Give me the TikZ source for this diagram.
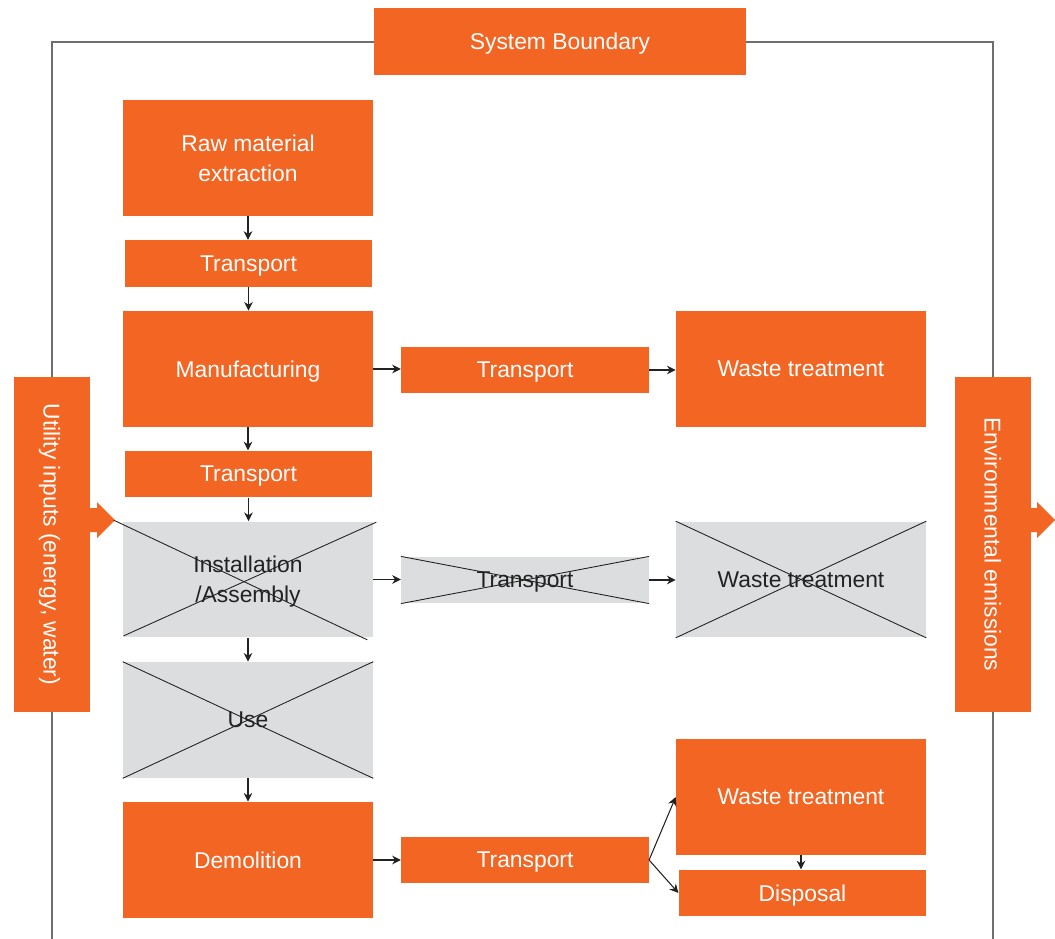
\documentclass[tikz,border=0pt]{standalone}
\usepackage{fontspec}
\setmainfont{Liberation Sans}
\usetikzlibrary{arrows.meta}
\definecolor{rorange}{HTML}{F36523}
\definecolor{rgrey}{HTML}{DCDDDF}
\definecolor{rline}{HTML}{6E6E6E}
\definecolor{rdark}{HTML}{222222}
\tikzset{
  box/.style={fill=rorange,text=white,align=center,inner sep=0pt,text depth=0pt,font=\fontsize{13}{17}\selectfont},
  big/.style={box,minimum width=5cm,minimum height=2.32cm},
  small/.style={box,minimum width=4.95cm,minimum height=0.93cm},
  side/.style={box,rotate=-90,minimum width=6.7cm,minimum height=1.52cm},
  off/.style={fill=rgrey,text=rdark},
  link/.style={-{Stealth[length=5pt,width=5pt]},draw=rdark,line width=0.6pt},
  cross/.style={draw=rdark,line width=0.5pt}
}
\begin{document}
\begin{tikzpicture}[x=0.02cm,y=-0.02cm]
  \useasboundingbox (0,0) rectangle (1055,939);
  \coordinate (sbw) at (374,42);
  \coordinate (sbe) at (746,42);
  \draw[rline,line width=0.6pt] (sbw) -| (52,939);
  \draw[rline,line width=0.6pt] (sbe) -| (993,939);
  \node[box,minimum width=7.44cm,minimum height=1.34cm] (sb) at (560,41.5) {System Boundary};

  \node[big] (raw) at (248,158) {Raw material\\extraction};
  \node[small] (tr1) at (248.5,263.5) {Transport};
  \node[big] (manu) at (248,369) {Manufacturing};
  \node[small] (trm) at (525,370) {Transport};
  \node[big] (waste1) at (801,369) {Waste treatment};
  \node[small] (tr2) at (248.5,474) {Transport};
  \node[big,off] (inst) at (248,579.5) {Installation\\/Assembly};
  \node[small,off] (tri) at (525,580) {Transport};
  \node[big,off] (waste2) at (801,579.5) {Waste treatment};
  \node[big,off] (use) at (248,720) {Use};
  \node[big] (demo) at (248,860) {Demolition};
  \node[small] (trd) at (525,860) {Transport};
  \node[big] (waste3) at (801,797) {Waste treatment};
  \node[small] (disp) at (802.5,893) {Disposal};

  \node[side] (util) at (52,544.5) {Utility inputs (energy, water)};
  \node[side] (env) at (993,544.5) {Environmental emissions};
  \fill[rorange] (90,508) -- (97,508) -- (97,502) -- (115,520) -- (97,538) -- (97,532) -- (90,532) -- cycle;
  \fill[rorange] (1031,508) -- (1037,508) -- (1037,502) -- (1055,520) -- (1037,538) -- (1037,532) -- (1031,532) -- cycle;

  \draw[cross] ([shift={(-9,-1)}]inst.north west) -- ([shift={(-6,2)}]inst.south east);
  \draw[cross] ([shift={(1,-2)}]inst.south west) -- ([shift={(3,1)}]inst.north east);
  \draw[cross] (tri.north west) -- (tri.south east);
  \draw[cross] (tri.south west) -- (tri.north east);
  \draw[cross] (waste2.north west) -- (waste2.south east);
  \draw[cross] (waste2.south west) -- (waste2.north east);
  \draw[cross] (use.north west) -- (use.south east);
  \draw[cross] (use.south west) -- (use.north east);

  \draw[link] (raw.south) -- (raw.south |- tr1.north);
  \draw[link] (tr1.south) -- (tr1.south |- manu.north);
  \draw[link] (manu.south) -- (manu.south |- tr2.north);
  \draw[link] (tr2.south) -- (tr2.south |- inst.north);
  \draw[link] (inst.south) -- (use.north);
  \draw[link] (use.south) -- (demo.north);
  \draw[link] (manu.east) -- (manu.east -| trm.west);
  \draw[link] (trm.east) -- (trm.east -| waste1.west);
  \draw[link] (inst.east) -- (inst.east -| tri.west);
  \draw[link] (tri.east) -- (tri.east -| waste2.west);
  \draw[link] (demo.east) -- (trd.west);
  \draw[link] (trd.east) -- (waste3.west);
  \draw[link] (trd.east) -- (disp.west);
  \draw[link] (waste3.south) -- (waste3.south |- disp.north);
\end{tikzpicture}
\end{document}
